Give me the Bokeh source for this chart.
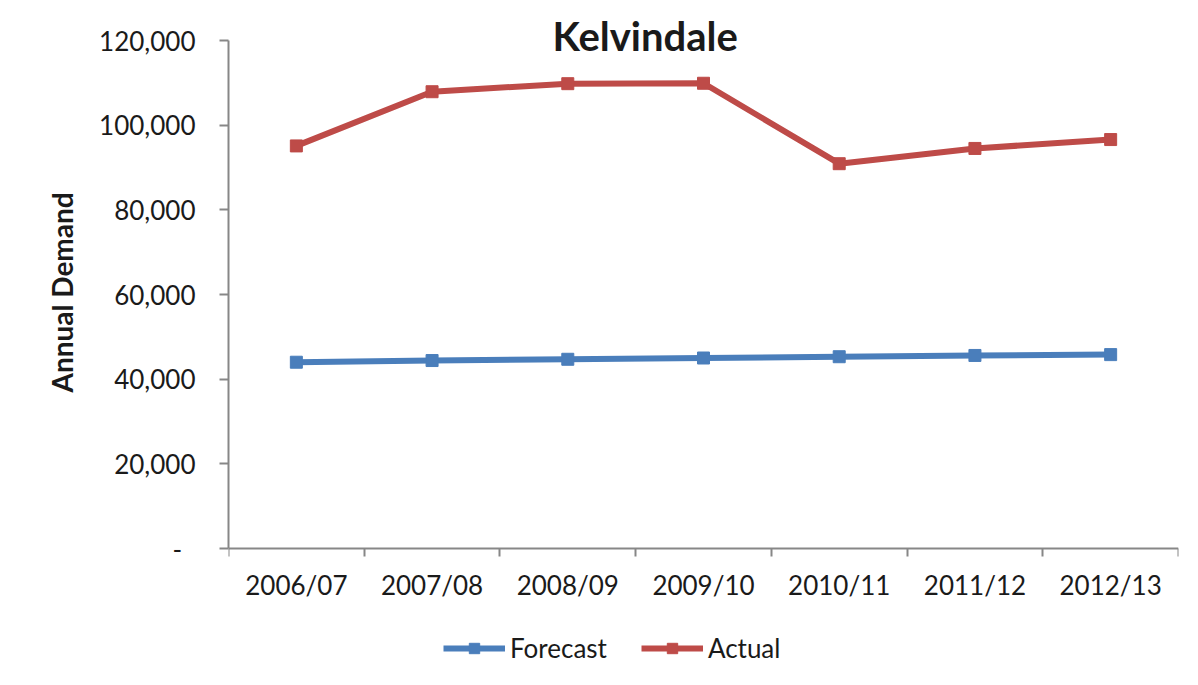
from bokeh.plotting import figure
from bokeh.models import (Range1d, LinearAxis, FixedTicker, Title,
                          NumeralTickFormatter, Legend, LegendItem, Label)
from bokeh.embed import file_html
from bokeh.resources import INLINE

categories = ["2006/07", "2007/08", "2008/09", "2009/10", "2010/11", "2011/12", "2012/13"]
forecast = [44000, 44400, 44700, 45000, 45300, 45600, 45800]
actual = [95100, 107900, 109800, 109900, 90900, 94500, 96600]
y_ticks = [0, 20000, 40000, 60000, 80000, 100000, 120000]

FONT = "Lato"
AXIS_GRAY = "#878787"
TEXT = "#1a1a1a"
BLUE = "#4A7EBB"
RED = "#BE4B48"

# layout: plot height in px and where the 0 / 120,000 gridlines sit (px from top)
H = 680
Y_TOP_PX, Y_ZERO_PX = 40, 548
Y_MAX = 120000
units_per_px = Y_MAX / (Y_ZERO_PX - Y_TOP_PX)

# category slots: each category occupies one unit, marks sit at slot centres
n = len(categories)
xc = [i + 0.5 for i in range(n)]

p = figure(width=1198, height=H, output_backend="svg", toolbar_location=None,
           x_range=Range1d(0, n),
           y_range=Range1d(-(H - Y_ZERO_PX) * units_per_px, Y_MAX + Y_TOP_PX * units_per_px),
           x_axis_location=None, y_axis_location="left",
           min_border_left=228, min_border_right=20, min_border_top=0, min_border_bottom=0,
           background_fill_color="white", border_fill_color="white", outline_line_color=None)
p.grid.visible = False

# y axis
ya = p.yaxis[0]
ya.bounds = (0, Y_MAX)
ya.ticker = FixedTicker(ticks=y_ticks)
ya.formatter = NumeralTickFormatter(format="0,0")
ya.major_label_overrides = {0: "-\u00a0\u00a0"}
ya.axis_line_color = AXIS_GRAY
ya.axis_line_width = 2
ya.major_tick_line_color = AXIS_GRAY
ya.major_tick_line_width = 2
ya.major_tick_in = 0
ya.major_tick_out = 9
ya.minor_tick_line_color = None
ya.major_label_text_font = FONT
ya.major_label_text_font_size = "26px"
ya.major_label_text_color = TEXT
ya.major_label_standoff = 24

# y axis title, centred on the 0..120,000 span (set as a side title)
y_title = Title(text="Annual Demand", align="left", offset=H - 392, standoff=36,
                text_font=FONT, text_font_style="bold", text_font_size="28px", text_color=TEXT)
p.add_layout(y_title, "left")

# x axis at y = 0: labels at slot centres, tick marks at slot boundaries
xa = LinearAxis(fixed_location=0,
                ticker=FixedTicker(ticks=xc, minor_ticks=list(range(n + 1))),
                major_label_overrides={x: c for x, c in zip(xc, categories)},
                axis_line_color=AXIS_GRAY, axis_line_width=2,
                major_tick_line_color=None, major_tick_in=0, major_tick_out=8,
                minor_tick_line_color=AXIS_GRAY, minor_tick_line_width=2,
                minor_tick_in=0, minor_tick_out=8,
                major_label_text_font=FONT, major_label_text_font_size="26px",
                major_label_text_color=TEXT, major_label_standoff=12)
p.add_layout(xa, "below")

# series
lf = p.line(xc, forecast, line_color=BLUE, line_width=6)
sf = p.scatter(xc, forecast, marker="square", size=12, fill_color=BLUE, line_color=BLUE)
la = p.line(xc, actual, line_color=RED, line_width=6)
sa = p.scatter(xc, actual, marker="square", size=12, fill_color=RED, line_color=RED)

legend = Legend(items=[LegendItem(label="Forecast", renderers=[lf, sf]),
                       LegendItem(label="Actual", renderers=[la, sa])],
                orientation="horizontal", location=(215, 16),
                label_text_font=FONT, label_text_font_size="26px", label_text_color=TEXT,
                glyph_width=62, glyph_height=26, label_standoff=5, spacing=34,
                padding=4, margin=0, border_line_color=None, background_fill_color=None)
p.add_layout(legend, "center")

title = Label(x=3.07, y=Y_MAX, text="Kelvindale",
              text_font=FONT, text_font_style="bold", text_font_size="40px", text_color=TEXT,
              text_align="center", text_baseline="alphabetic", y_offset=5)
p.add_layout(title)

open("out.html", "w").write(file_html(p, INLINE))
